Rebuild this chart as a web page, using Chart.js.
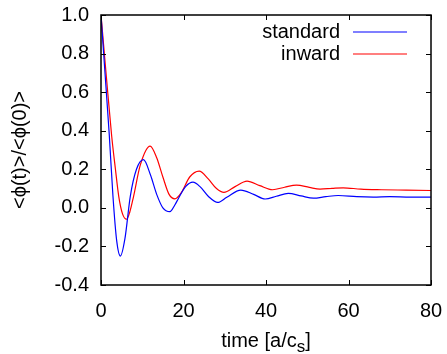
<!DOCTYPE html>
<html>
<head>
<meta charset="utf-8">
<script src="https://cdn.jsdelivr.net/npm/chart.js@4.4.0/dist/chart.umd.min.js"></script>
<style>
  html, body { margin: 0; padding: 0; background: #fff; }
</style>
</head>
<body>
<canvas id="myChart" width="447" height="354"></canvas>
<script>
const seriesLabels = ['standard', 'inward'];
const seriesColors = ['#0000ff', '#ff0000'];

const standardT = [0, 1, 2, 2.9, 3.8, 4.7, 5.8, 7.1, 8.6, 10.3, 12, 13.5, 15, 16.7, 17.9, 18.8, 20.5, 22.3, 24, 26, 28.3, 30.5, 33.9, 37, 39.8, 42.5, 45.4, 48.5, 51.5, 54.5, 57.5, 62, 66, 70, 75, 80];
const standardY = [1.0, 0.69, 0.38, 0.06, -0.17, -0.25, -0.16, 0.06, 0.20, 0.25, 0.17, 0.07, 0.0, -0.02, 0.015, 0.05, 0.11, 0.133, 0.11, 0.06, 0.028, 0.055, 0.092, 0.07, 0.046, 0.06, 0.075, 0.062, 0.05, 0.058, 0.064, 0.058, 0.056, 0.058, 0.056, 0.056];

const inwardT = [0, 1.3, 2.6, 3.5, 4.3, 5.2, 6.2, 7.0, 7.9, 9.5, 11.9, 13.5, 15, 16.5, 17.9, 19.5, 21.5, 23.8, 26, 28, 29.8, 32.5, 35.4, 38.5, 41.6, 44.5, 47.4, 50.5, 53.1, 56, 58.7, 63, 68, 74, 80];
const inwardY = [1.0, 0.68, 0.37, 0.2, 0.06, -0.03, -0.059, -0.02, 0.06, 0.22, 0.32, 0.26, 0.16, 0.07, 0.047, 0.08, 0.16, 0.19, 0.15, 0.1, 0.08, 0.11, 0.139, 0.115, 0.094, 0.107, 0.118, 0.106, 0.097, 0.101, 0.104, 0.097, 0.094, 0.092, 0.09];

const xTicks = [0, 20, 40, 60, 80];
const yTicks = [-0.4, -0.2, 0.0, 0.2, 0.4, 0.6, 0.8, 1.0];

const FONT = '"Liberation Sans", Arial, sans-serif';

function toPoints(ts, ys) {
  return ts.map((t, i) => ({ x: t, y: ys[i] }));
}

// gnuplot-like frame: border, inward ticks on all four sides, legend, x title
const framePlugin = {
  id: 'frame',
  afterDraw(chart) {
    const { ctx, chartArea: a, scales: { x, y } } = chart;
    ctx.save();
    ctx.strokeStyle = '#000';
    ctx.lineWidth = 1.5;
    ctx.strokeRect(a.left, a.top, a.right - a.left, a.bottom - a.top);

    ctx.lineWidth = 1;
    ctx.beginPath();
    x.ticks.forEach(t => {
      const px = Math.round(x.getPixelForValue(t.value)) + 0.5;
      ctx.moveTo(px, a.bottom); ctx.lineTo(px, a.bottom - 5);
      ctx.moveTo(px, a.top); ctx.lineTo(px, a.top + 5);
    });
    y.ticks.forEach(t => {
      const py = Math.round(y.getPixelForValue(t.value)) + 0.5;
      ctx.moveTo(a.left, py); ctx.lineTo(a.left + 5, py);
      ctx.moveTo(a.right, py); ctx.lineTo(a.right - 5, py);
    });
    ctx.stroke();

    // legend: text on the left, line sample on the right
    ctx.font = '20px ' + FONT;
    ctx.textAlign = 'right';
    ctx.textBaseline = 'middle';
    chart.data.datasets.forEach((ds, i) => {
      const yy = a.top + 17 + i * 22;
      ctx.fillStyle = '#000';
      ctx.fillText(ds.label, a.right - 91, yy);
      ctx.strokeStyle = ds.borderColor;
      ctx.lineWidth = 1.2;
      ctx.beginPath();
      ctx.moveTo(a.right - 78, yy);
      ctx.lineTo(a.right - 24, yy);
      ctx.stroke();
    });

    // x title with subscript
    const main = 'time [a/c', sub = 's', tail = ']';
    ctx.textAlign = 'left';
    ctx.textBaseline = 'alphabetic';
    ctx.font = '20px ' + FONT;
    const w1 = ctx.measureText(main).width, w3 = ctx.measureText(tail).width;
    ctx.font = '17px ' + FONT;
    const w2 = ctx.measureText(sub).width;
    let tx = (a.left + a.right) / 2 - (w1 + w2 + w3) / 2;
    const base = 347;
    ctx.fillStyle = '#000';
    ctx.font = '20px ' + FONT;
    ctx.fillText(main, tx, base);
    tx += w1;
    ctx.font = '17px ' + FONT;
    ctx.fillText(sub, tx, base + 5);
    tx += w2;
    ctx.font = '20px ' + FONT;
    ctx.fillText(tail, tx, base);
    ctx.restore();
  }
};

const ctx = document.getElementById('myChart').getContext('2d');
const myChart = new Chart(ctx, {
  type: 'line',
  data: {
    datasets: [{
      label: seriesLabels[0],
      data: toPoints(standardT, standardY),
      borderColor: seriesColors[0],
      borderWidth: 1.2,
      pointRadius: 0,
      cubicInterpolationMode: 'monotone',
      fill: false
    }, {
      label: seriesLabels[1],
      data: toPoints(inwardT, inwardY),
      borderColor: seriesColors[1],
      borderWidth: 1.2,
      pointRadius: 0,
      cubicInterpolationMode: 'monotone',
      fill: false
    }]
  },
  options: {
    responsive: false,
    animation: false,
    devicePixelRatio: 1,
    layout: { padding: { top: 15, right: 16, left: 0, bottom: 0 } },
    plugins: {
      legend: { display: false },
      tooltip: { enabled: false }
    },
    scales: {
      x: {
        type: 'linear',
        min: 0,
        max: 80,
        afterBuildTicks: s => { s.ticks = xTicks.map(v => ({ value: v })); },
        afterFit: s => { s.height = 69; s.paddingLeft = 0; s.paddingRight = 0; },
        grid: { display: false, drawTicks: false },
        border: { display: false },
        ticks: {
          color: '#000',
          padding: 14,
          maxRotation: 0,
          font: { family: FONT, size: 20 }
        }
      },
      y: {
        min: -0.4,
        max: 1.0,
        afterBuildTicks: s => { s.ticks = yTicks.map(v => ({ value: v })); },
        afterFit: s => { s.width = 101; s.paddingTop = 0; s.paddingBottom = 0; },
        grid: { display: false, drawTicks: false },
        border: { display: false },
        ticks: {
          color: '#000',
          padding: 12,
          font: { family: FONT, size: 20 },
          callback: v => (Math.abs(v) < 1e-9 ? 0 : v).toFixed(1)
        },
        title: {
          display: true,
          text: '<ϕ(t)>/<ϕ(0)>',
          color: '#000',
          font: { family: FONT, size: 20 },
          padding: { top: 8, bottom: 0 }
        }
      }
    }
  },
  plugins: [framePlugin]
});
</script>
</body>
</html>
